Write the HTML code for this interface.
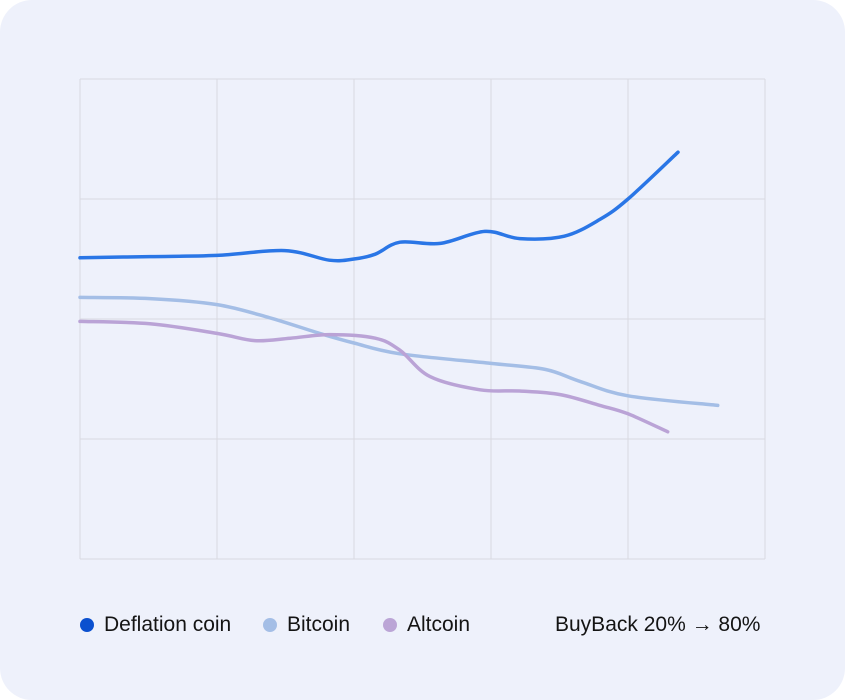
<!DOCTYPE html>
<html><head><meta charset="utf-8"><style>
html,body{margin:0;padding:0;background:#fff;}
body{width:845px;height:700px;position:relative;overflow:hidden;font-family:"Liberation Sans",sans-serif;}
#card{position:absolute;left:0;top:0;width:845px;height:700px;background:#eef1fb;border-radius:32px;}
.leg{position:absolute;top:613px;font-size:21px;color:#141414;display:flex;align-items:center;white-space:nowrap;line-height:24px;}
.dot{width:14px;height:14px;border-radius:50%;margin-right:10px;}
</style></head><body>
<div id="card">
<svg id="chart" width="845" height="700" style="position:absolute;left:0;top:0"></svg>
<div class="leg" style="left:80px"><span class="dot" style="background:#0b50cf"></span>Deflation coin</div>
<div class="leg" style="left:263px"><span class="dot" style="background:#a4bee6"></span>Bitcoin</div>
<div class="leg" style="left:383px"><span class="dot" style="background:#bba5d6"></span>Altcoin</div>
<div class="leg" style="left:555px">BuyBack 20% → 80%</div>
</div>
<script>
const deflationX=[0,1.02,2,2.99,3.64,4,4.31,4.67,5.26,5.91,6.42,7.07,7.59,8,8.73];
const deflationY=[2.51,2.52,2.53,2.57,2.49,2.5,2.54,2.64,2.63,2.73,2.67,2.69,2.83,3.0,3.39];
const bitcoinX=[0,1.02,2,2.77,3.5,4,4.67,6,6.79,7.3,8,9.31];
const bitcoinY=[2.18,2.17,2.12,2.01,1.88,1.8,1.71,1.63,1.58,1.48,1.36,1.28];
const altcoinX=[0,1.02,2,2.55,3.07,3.65,4.31,4.67,5.11,5.84,6.42,7.01,7.59,8,8.58];
const altcoinY=[1.98,1.96,1.88,1.82,1.84,1.87,1.84,1.74,1.52,1.41,1.4,1.37,1.28,1.21,1.06];
const xTicks=[0,2,4,6,8,10];
const yTicks=[0,1,2,3,4];
const L=80,R=765,T=79,B=559;
const sx=v=>L+v*(R-L)/10;
const sy=v=>B-v*(B-T)/4;
const svg=document.getElementById('chart');
const NS='http://www.w3.org/2000/svg';
function mk(t,a){const e=document.createElementNS(NS,t);for(const k in a)e.setAttribute(k,a[k]);svg.appendChild(e);return e;}
xTicks.forEach(v=>{const l=mk('line',{x1:sx(v),x2:sx(v),y1:T,y2:B,stroke:'#d8d9e0','stroke-width':1});

});
yTicks.forEach(v=>{const l=mk('line',{x1:L,x2:R,y1:sy(v),y2:sy(v),stroke:'#d8d9e0','stroke-width':1});

});
function path(xs,ys){const p=xs.map((x,i)=>[sx(x),sy(ys[i])]);let d='M'+p[0][0]+','+p[0][1];
for(let i=0;i<p.length-1;i++){const p0=p[i-1]||p[i],p1=p[i],p2=p[i+1],p3=p[i+2]||p2;
const c1=[p1[0]+(p2[0]-p0[0])/6,p1[1]+(p2[1]-p0[1])/6],c2=[p2[0]-(p3[0]-p1[0])/6,p2[1]-(p3[1]-p1[1])/6];
d+=` C${c1[0]},${c1[1]} ${c2[0]},${c2[1]} ${p2[0]},${p2[1]}`;}return d;}
const s1=mk('path',{d:path(bitcoinX,bitcoinY),fill:'none',stroke:'#a4bee6','stroke-width':3.5,'stroke-linecap':'round'});


const s2=mk('path',{d:path(altcoinX,altcoinY),fill:'none',stroke:'#baa3d6','stroke-width':3.5,'stroke-linecap':'round'});


const s3=mk('path',{d:path(deflationX,deflationY),fill:'none',stroke:'#2a76e6','stroke-width':3.5,'stroke-linecap':'round'});


</script>
</body></html>
